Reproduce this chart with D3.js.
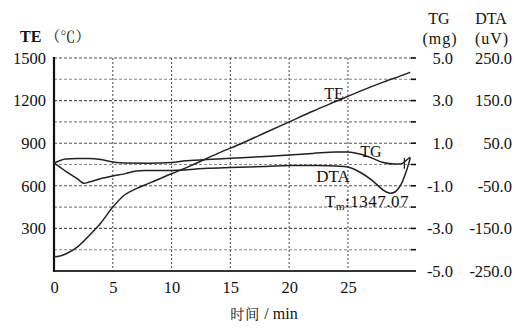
<!DOCTYPE html>
<html><head><meta charset="utf-8">
<script src="https://cdn.jsdelivr.net/npm/d3@7/dist/d3.min.js"></script>
<style>
body{margin:0;background:#fff;}
</style></head>
<body>
<svg id="c" width="515" height="329"></svg>
<script>
// time (min)
const teTime = [0,0.5,1,2,3,4,5,6,7,8,9,10,11,12,14,16,18,20,22,24,26,28,30,30.3];
const teValues = [100,105,120,170,250,340,450,535,580,615,650,685,718,755,830,900,975,1050,1125,1195,1265,1330,1390,1400];

const tgTime = [0,1,2,3,4,5,6,8,10,11,13,15,18,20,22,24,25,26,27,28,29,29.5,30,30.3];
const tgValues = [0.06,0.26,0.28,0.28,0.23,0.12,0.07,0.06,0.09,0.16,0.23,0.29,0.38,0.45,0.52,0.59,0.59,0.49,0.31,0.09,0.02,0.02,0.21,0.35];

const dtaTime = [0,0.5,1,2,2.5,3,4,5,6,7,8,10,11,13,15,18,20,22,24,25,26,27,28,28.5,29,29.5,30,30.3];
const dtaValues = [3,-6,-16,-34,-44,-41,-33,-27,-22,-15,-14,-14,-13,-9,-7,-4.6,-2.3,-2.3,-3.5,-6,-17.6,-36,-60,-67,-64.5,-48,-13,15];

const xTicks = [0,5,10,15,20,25];
const teTicks = [300,600,900,1200,1500];
const tgTicks = [5.0,3.0,1.0,-1.0,-3.0,-5.0];
const dtaTicks = [250.0,150.0,50.0,-50.0,-150.0,-250.0];

const SERIF = "Liberation Serif";
const CJK = "Noto Serif CJK SC";
const FS = 16.5;

const svg = d3.select("#c");
const L=54, R=412, T=58, B=271;
const x = d3.scaleLinear().domain([0,30.45]).range([L,R]);
const yTE = d3.scaleLinear().domain([0,1500]).range([B,T]);
const yTG = d3.scaleLinear().domain([-5,5]).range([B,T]);
const yDTA = d3.scaleLinear().domain([-250,250]).range([B,T]);
const f1 = d => d3.format(".1f")(d).replace("\u2212","-");

// grid
const gridVals = d3.range(150,1501,150);
svg.append("g").selectAll("line").data(gridVals).join("line")
  .attr("x1",L).attr("x2",R).attr("y1",d=>yTE(d)).attr("y2",d=>yTE(d))
  .attr("stroke",d=>d%300===0?"#555":"#888").attr("stroke-width",1.1)
  .attr("stroke-dasharray","3,2");
svg.append("g").selectAll("line").data(xTicks.slice(1)).join("line")
  .attr("x1",d=>x(d)).attr("x2",d=>x(d)).attr("y1",T).attr("y2",B)
  .attr("stroke","#555").attr("stroke-width",1.1).attr("stroke-dasharray","2,2");
// right small ticks
svg.append("g").selectAll("line").data(gridVals).join("line")
  .attr("x1",R-1).attr("x2",R+4).attr("y1",d=>yTE(d)).attr("y2",d=>yTE(d))
  .attr("stroke","#111").attr("stroke-width",1.6);

function styleAxis(g){
  g.attr("font-family",null).attr("font-size",null);
  g.select(".domain").remove();
  g.selectAll("text").attr("fill","#111").attr("font-family",SERIF).attr("font-size",FS);
}
// axes
svg.append("g").attr("transform",`translate(0,${B})`)
  .call(d3.axisBottom(x).tickValues(xTicks).tickSize(0).tickPadding(10).tickFormat(d3.format("d")))
  .call(styleAxis);
svg.append("line").attr("x1",L).attr("x2",R+4).attr("y1",B).attr("y2",B).attr("stroke","#333").attr("stroke-width",2.2);
svg.append("line").attr("x1",L).attr("x2",L).attr("y1",T-1).attr("y2",B+1).attr("stroke","#111").attr("stroke-width",2.2);

svg.append("g").attr("transform",`translate(${L-8},0)`)
  .call(d3.axisLeft(yTE).tickValues(teTicks).tickSize(0).tickPadding(0).tickFormat(d3.format("d")))
  .call(styleAxis);
svg.append("g").attr("transform",`translate(453,0)`)
  .call(d3.axisLeft(yTG).tickValues(tgTicks).tickSize(0).tickPadding(0).tickFormat(f1))
  .call(styleAxis);
svg.append("g").attr("transform",`translate(512,0)`)
  .call(d3.axisLeft(yDTA).tickValues(dtaTicks).tickSize(0).tickPadding(0).tickFormat(f1))
  .call(styleAxis);

// curves
const mk = (xs, ys, yS) => xs.map((t,i)=>[x(t), yS(ys[i])]);
const line = d3.line().curve(d3.curveMonotoneX);
svg.append("path").attr("d",line(mk(teTime,teValues,yTE))).attr("fill","none").attr("stroke","#222").attr("stroke-width",1.5);
svg.append("path").attr("d",line(mk(tgTime,tgValues,yTG))).attr("fill","none").attr("stroke","#222").attr("stroke-width",1.5);
svg.append("path").attr("d",d3.line().curve(d3.curveCatmullRom)(mk(dtaTime,dtaValues,yDTA))).attr("fill","none").attr("stroke","#222").attr("stroke-width",1.5);
// end tick
svg.append("line").attr("x1",x(29.8)).attr("x2",x(29.8)).attr("y1",yTG(0.3)).attr("y2",yTG(-0.2)).attr("stroke","#222").attr("stroke-width",1.3);

// labels
const lab = (t,xx,yy,size,anchor)=>svg.append("text").attr("x",xx).attr("y",yy).attr("text-anchor",anchor||"middle")
  .attr("font-family",SERIF).attr("font-size",size).attr("fill","#111").text(t);
const te = svg.append("text").attr("x",20).attr("y",42).attr("font-family",SERIF).attr("font-size",16).attr("font-weight","bold").attr("fill","#111");
te.append("tspan").text("TE ");
te.append("tspan").attr("font-family",CJK).attr("font-weight","normal").attr("font-size",15).text("（℃）");
lab("TG",439,24,16);
lab("DTA",491,24,16);
lab("(mg)",440,44,16).attr("letter-spacing",1);
lab("(uV)",492,44,16).attr("letter-spacing",1);
lab("TE",334,99,16);
lab("TG",371,157,16);
lab("DTA",333,182,17);
const tm = svg.append("text").attr("x",325).attr("y",207).attr("font-family",SERIF).attr("font-size",17).attr("fill","#111").attr("letter-spacing",0.5);
tm.append("tspan").text("T");
tm.append("tspan").text("m").attr("font-size",11).attr("dy",3);
tm.append("tspan").text(":1347.07").attr("dy",-3);
const xl = svg.append("text").attr("x",264).attr("y",319).attr("text-anchor","middle").attr("font-family",SERIF).attr("font-size",16).attr("fill","#111");
xl.append("tspan").attr("font-family",CJK).attr("font-size",14).attr("letter-spacing",1).text("时间");
xl.append("tspan").text(" / min");
</script></body></html>
